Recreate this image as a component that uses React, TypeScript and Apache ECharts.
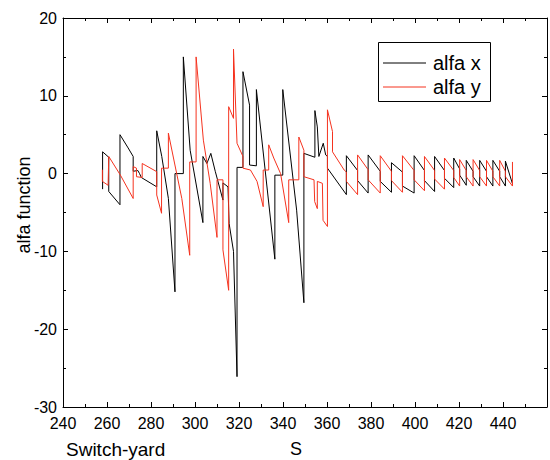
import React, { useEffect, useRef } from "react";
import * as echarts from "echarts";

// alfa x (black) — s positions and values
const alfaXS = [
  258.0, 258.0, 260.8, 260.8, 265.9, 265.9, 269.6, 271.9, 271.9, 274.0,
  274.8, 275.6, 282.6, 282.6, 284.9, 287.9, 290.9, 290.9, 294.7, 294.7,
  297.8, 303.6, 303.6, 305.4, 307.2, 309.2, 312.7, 312.7, 315.0, 315.5,
  317.5, 319.1, 319.1, 321.8, 321.8, 324.8, 324.8, 327.9, 327.9, 336.3,
  336.3, 339.9, 339.9, 346.2, 349.5, 349.5, 354.5, 354.5, 355.6, 356.3,
  358.3, 359.4, 360.2, 360.2, 368.8,
  368.8, 373.9, 373.9, 378.7,
  378.7, 384.2, 384.2, 389.3,
  389.3, 394.3, 394.3, 399.6,
  399.6, 404.3, 404.3, 408.9,
  408.9, 413.4, 413.4, 417.6,
  417.6, 420.3, 420.3, 423.3,
  423.3, 426.4, 426.4, 429.4,
  429.4, 432.5, 432.5, 435.4,
  435.4, 438.5, 438.5, 441.1,
  441.1, 444.3,
];
const alfaXV = [
  -2.0, 2.8, 2.1, -2.3, -4.0, 5.0, 3.3, 2.2, 0.3, 0.4,
  0.0, -0.5, -1.7, 5.5, 2.2, -3.2, -15.2, 0.0, 0.0, 15.0,
  3.0, -6.3, 2.2, 1.3, 2.6, 0.3, -3.4, -1.2, -1.7, -6.4,
  -10.0, -26.1, 0.8, 0.8, 13.1, 8.8, 1.1, 1.0, 10.8, -11.0,
  -0.2, -0.2, 10.8, -4.7, -16.6, 2.6, 2.1, 8.1, 6.0, 2.2,
  3.9, 2.4, 2.2, 0.7, -2.7,
  2.3, 0.4, -0.9, -2.5,
  2.4, 0.3, -1.0, -2.4,
  1.4, 0.2, -1.6, -2.5,
  2.3, 0.4, -0.9, -2.3,
  2.2, 0.4, -0.6, -1.8,
  2.0, 0.6, -0.2, -1.5,
  1.7, 0.3, -0.4, -1.6,
  1.7, 0.3, -0.4, -1.6,
  1.7, 0.3, -0.4, -1.6,
  1.6, -1.3,
];

// alfa y (red)
const alfaYS = [
  257.9, 257.9, 260.5, 260.8, 266.1, 271.9, 271.9, 273.4, 273.4, 276.0,
  276.0, 282.6, 282.6, 284.8, 284.8, 287.9, 287.9, 294.0, 297.6, 297.6,
  300.5, 300.5, 303.8, 306.9, 310.0, 310.0, 312.7, 312.7, 315.3, 315.3,
  317.5, 317.5, 319.1, 321.8, 321.8, 325.2, 328.2, 331.0, 331.0, 333.5,
  333.5, 335.8, 338.9, 342.6, 342.6, 347.2, 347.2, 349.5, 349.5, 354.1,
  354.4, 355.6, 355.6, 357.9, 358.2, 360.2, 360.2, 362.5, 362.5, 367.8,
  368.8, 368.8, 373.9,
  373.9, 378.7, 378.7, 384.2,
  384.2, 389.3, 389.3, 394.3,
  394.3, 399.6, 399.6, 404.3,
  404.3, 408.9, 408.9, 413.4,
  413.4, 417.6, 417.6, 420.3,
  420.3, 423.3, 423.3, 426.4,
  426.4, 429.4, 429.4, 432.5,
  432.5, 435.4, 435.4, 438.5,
  438.5, 441.1, 441.1, 444.3,
  444.3,
];
const alfaYV = [
  0.5, -1.0, -1.5, 2.2, -0.2, -3.2, 0.9, 0.7, -0.4, -0.5,
  1.3, 0.25, -2.75, -5.1, 0.7, 0.7, 5.2, -3.2, -10.5, 1.5,
  1.5, 15.0, 4.3, -1.25, -8.2, -0.8, -0.8, -9.8, -15.0, 8.6,
  7.1, 16.0, 3.9, 2.2, 0.7, 0.46, -1.0, -4.25, 0.46, 0.46,
  3.7, 2.0, 0.0, -6.3, -0.8, -0.8, 4.7, 3.0, -0.4, -0.8,
  -3.6, -4.5, -1.0, -1.25, -6.0, -6.8, 8.2, 5.4, 2.8, 0.46,
  0.2, -1.0, -2.7,
  2.4, 0.5, -0.8, -2.5,
  2.3, 0.3, -0.9, -2.4,
  2.3, 0.4, -0.8, -2.2,
  2.2, 0.4, -0.7, -2.0,
  2.0, 0.4, -0.5, -1.6,
  1.8, 0.4, -0.4, -1.6,
  1.8, 0.4, -0.4, -1.6,
  1.7, 0.3, -0.4, -1.6,
  1.7, 0.3, -0.4, -1.6,
  1.5,
];

const seriesNames = ["alfa x", "alfa y"];
const seriesColors = ["#000000", "#f5331f"];
const xTitle = "S";
const yTitle = "alfa function";
const noteText = "Switch-yard";

const FONT = "Liberation Sans, Arial, sans-serif";

function pairs(xs: number[], ys: number[]) {
  return xs.map((x, i) => [x, ys[i]]);
}

export default function App() {
  const ref = useRef<HTMLDivElement>(null);
  useEffect(() => {
    if (!ref.current) return;
    const chart = echarts.init(ref.current, null, { renderer: "svg" });
    const axisCommon = {
      type: "value" as const,
      axisLine: { show: true, onZero: false, lineStyle: { color: "#000", width: 1 } },
      axisTick: { show: true, inside: true, length: 5, lineStyle: { color: "#000", width: 1 } },
      minorTick: { show: true, splitNumber: 2, length: 3, lineStyle: { color: "#000", width: 1 } },
      splitLine: { show: false },
      minorSplitLine: { show: false },
    };
    const xBase = { ...axisCommon, min: 240, max: 460, interval: 20 };
    const yBase = { ...axisCommon, min: -30, max: 20, interval: 10 };
    chart.setOption({
      animation: false,
      backgroundColor: "#fff",
      grid: { left: 63, right: 3, top: 18, bottom: 53 },
      xAxis: [
        {
          ...xBase,
          position: "bottom",
          axisLabel: {
            color: "#000",
            fontSize: 16,
            fontFamily: FONT,
            margin: 8,
            formatter: (v: number) => (v === 460 ? "" : String(v)),
          },
        },
        { ...xBase, position: "top", axisLabel: { show: false } },
      ],
      yAxis: [
        {
          ...yBase,
          position: "left",
          axisLabel: { color: "#000", fontSize: 16, fontFamily: FONT, margin: 6 },
        },
        { ...yBase, position: "right", axisLabel: { show: false } },
      ],
      series: [
        {
          name: seriesNames[0],
          type: "line",
          xAxisIndex: 0,
          yAxisIndex: 0,
          data: pairs(alfaXS, alfaXV),
          symbol: "none",
          lineStyle: { color: seriesColors[0], width: 1 },
          itemStyle: { color: seriesColors[0] },
        },
        {
          name: seriesNames[1],
          type: "line",
          xAxisIndex: 0,
          yAxisIndex: 0,
          data: pairs(alfaYS, alfaYV),
          symbol: "none",
          lineStyle: { color: seriesColors[1], width: 1 },
          itemStyle: { color: seriesColors[1] },
        },
      ],
      graphic: [
        {
          type: "rect",
          shape: { x: 378.5, y: 42.5, width: 112, height: 59 },
          style: { fill: "#fff", stroke: "#000", lineWidth: 1 },
          z: 10,
        },
        {
          type: "line",
          shape: { x1: 383, y1: 63, x2: 426, y2: 63 },
          style: { stroke: seriesColors[0], lineWidth: 1 },
          z: 11,
        },
        {
          type: "line",
          shape: { x1: 383, y1: 87, x2: 426, y2: 87 },
          style: { stroke: seriesColors[1], lineWidth: 1 },
          z: 11,
        },
        {
          type: "text",
          x: 433,
          y: 63,
          style: {
            text: seriesNames[0],
            fontSize: 20,
            fontFamily: FONT,
            fill: "#000",
            align: "left",
            verticalAlign: "middle",
          },
          z: 11,
        },
        {
          type: "text",
          x: 433,
          y: 87,
          style: {
            text: seriesNames[1],
            fontSize: 20,
            fontFamily: FONT,
            fill: "#000",
            align: "left",
            verticalAlign: "middle",
          },
          z: 11,
        },
        {
          type: "text",
          x: 24,
          y: 205,
          rotation: Math.PI / 2,
          style: {
            text: yTitle,
            fontSize: 18,
            fontFamily: FONT,
            fill: "#000",
            align: "center",
            verticalAlign: "middle",
          },
        },
        {
          type: "text",
          x: 296,
          y: 449,
          style: {
            text: xTitle,
            fontSize: 18,
            fontFamily: FONT,
            fill: "#000",
            align: "center",
            verticalAlign: "middle",
          },
        },
        {
          type: "text",
          x: 66,
          y: 449,
          style: {
            text: noteText,
            fontSize: 19,
            fontFamily: FONT,
            fill: "#000",
            align: "left",
            verticalAlign: "middle",
          },
        },
      ],
    });
    return () => chart.dispose();
  }, []);
  return (
    <div
      ref={ref}
      style={{ position: "fixed", left: 0, top: 0, width: 550, height: 460 }}
    />
  );
}
